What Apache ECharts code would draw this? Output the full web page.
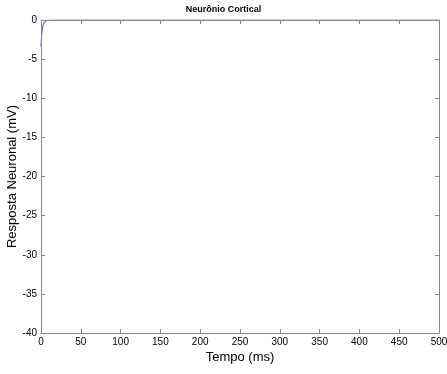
<!DOCTYPE html>
<html><head><meta charset="utf-8">
<script src="https://cdn.jsdelivr.net/npm/echarts@6/dist/echarts.min.js"></script>
<style>html,body{margin:0;padding:0;background:#fff}#c{width:447px;height:374px}</style>
</head><body><div id="c"></div>
<script>
const timeMs = [0, 0.5, 1, 1.5, 2, 3, 4, 5, 6, 8, 10, 20, 50, 100, 200, 300, 400, 500];
const responseMv = [-3.4, -2.4, -1.7, -1.25, -0.95, -0.55, -0.32, -0.18, -0.1, -0.03, 0, 0, 0, 0, 0, 0, 0, 0];
const xTicks = [0, 50, 100, 150, 200, 250, 300, 350, 400, 450, 500];
const yTicks = [-40, -35, -30, -25, -20, -15, -10, -5, 0];
const chart = echarts.init(document.getElementById('c'));
const font = 'Liberation Sans, Arial, sans-serif';
const axisLine = {show: true, onZero: false, lineStyle: {color: '#888', width: 1}};
const tick = {inside: true, length: 4, lineStyle: {color: '#888'}};
chart.setOption({
  animation: false,
  title: {text: 'Neurônio Cortical', left: 'center', top: 0,
    textStyle: {fontSize: 9, fontWeight: 'bold', color: '#000', fontFamily: font}},
  grid: {left: 41, right: 8, top: 20, bottom: 41, outerBoundsMode: 'none', containLabel: false},
  xAxis: [{type: 'value', min: 0, max: 500, interval: 50, z: 5,
    name: 'Tempo (ms)', nameLocation: 'middle', nameGap: 18, nameMoveOverlap: false,
    nameTextStyle: {fontSize: 13, color: '#000', fontFamily: font},
    axisLine: axisLine, axisTick: tick,
    axisLabel: {fontSize: 10, color: '#000', fontFamily: font, margin: 4,
      formatter: v => xTicks.includes(v) ? String(v) : ''},
    splitLine: {show: false}},
    {type: 'value', min: 0, max: 500, interval: 50, position: 'top', z: 5,
    axisLine: axisLine, axisTick: tick, axisLabel: {show: false}, splitLine: {show: false}}],
  yAxis: [{type: 'value', min: -40, max: 0, interval: 5, z: 5,
    name: 'Resposta Neuronal (mV)', nameLocation: 'middle', nameGap: 22, nameMoveOverlap: false,
    nameTextStyle: {fontSize: 13, color: '#000', fontFamily: font},
    axisLine: axisLine, axisTick: tick,
    axisLabel: {fontSize: 10, color: '#000', fontFamily: font, margin: 4,
      formatter: v => yTicks.includes(v) ? String(v) : ''},
    splitLine: {show: false}},
    {type: 'value', min: -40, max: 0, interval: 5, position: 'right', z: 5,
    axisLine: axisLine, axisTick: tick, axisLabel: {show: false}, splitLine: {show: false}}],
  series: [{type: 'line', showSymbol: false, smooth: false, z: 1,
    lineStyle: {color: '#3333ff', width: 1},
    data: timeMs.map((t, i) => [t, responseMv[i]])}]
});
</script></body></html>
